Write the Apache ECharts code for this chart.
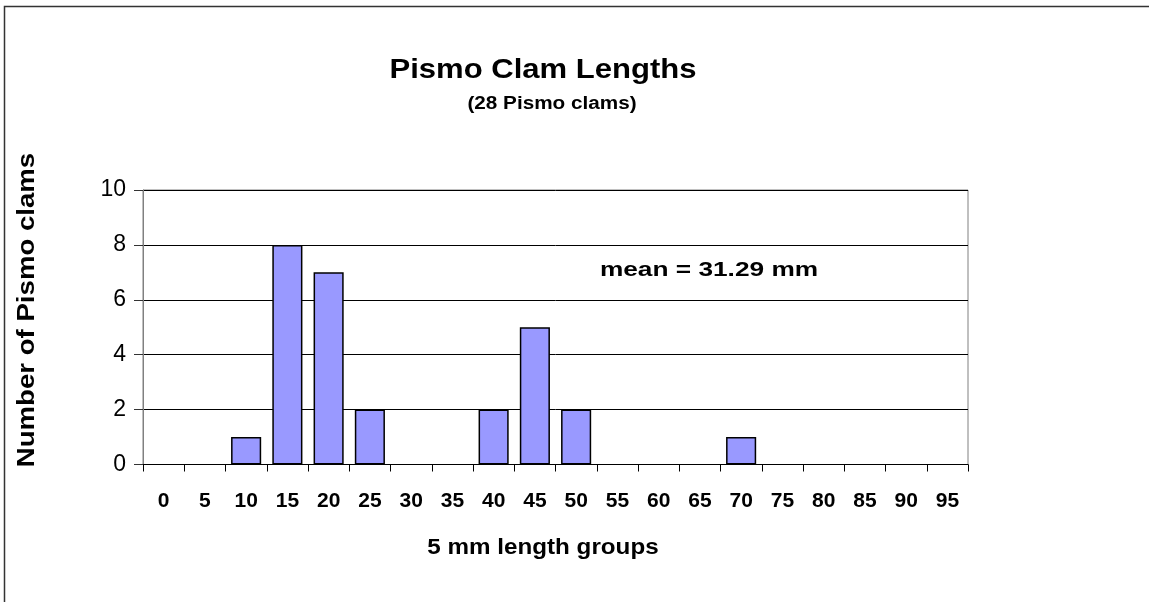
<!DOCTYPE html>
<html>
<head>
<meta charset="utf-8">
<script src="https://cdn.jsdelivr.net/npm/echarts@6/dist/echarts.min.js"></script>
<style>
  html, body { margin: 0; padding: 0; background: #fff; }
  #chart { width: 1149px; height: 602px; }
</style>
</head>
<body>
<div id="chart"></div>
<script>
// 5 mm length groups (lower bound of each group, mm)
const lengthGroups = ['0', '5', '10', '15', '20', '25', '30', '35', '40', '45',
                      '50', '55', '60', '65', '70', '75', '80', '85', '90', '95']
// number of clams in each group
const clamCounts = [0, 0, 1, 8, 7, 2, 0, 0, 2, 5, 2, 0, 0, 0, 1, 0, 0, 0, 0, 0]
const yTicks = [0, 2, 4, 6, 8, 10]

const font = 'Liberation Sans, Arial, sans-serif'

const chart = echarts.init(document.getElementById('chart'), null, { renderer: 'canvas' })

// empty groups get no outline, like the original
const barData = clamCounts.map(v => v === 0 ? { value: v, itemStyle: { borderWidth: 0 } } : v)

const option = {
    backgroundColor: '#fff',
    animation: false,
    grid: { left: 143, right: 181, top: 190, bottom: 137.5, show: true, borderColor: '#808080', borderWidth: 1 },
    graphic: [
        { type: 'rect', shape: { x: 4.5, y: 6.5, width: 1200, height: 700 },
          style: { fill: null, stroke: '#333', lineWidth: 1.5 }, silent: true, z: -1 },
        { type: 'text', x: 543, y: 71, scaleX: 1.15,
          style: { text: 'Pismo Clam Lengths', font: 'bold 27px ' + font, fill: '#000',
                   textAlign: 'center', textVerticalAlign: 'middle' } },
        { type: 'text', x: 552, y: 104, scaleX: 1.15,
          style: { text: '(28 Pismo clams)', font: 'bold 18px ' + font, fill: '#000',
                   textAlign: 'center', textVerticalAlign: 'middle' } },
        { type: 'text', x: 709, y: 270, scaleX: 1.25,
          style: { text: 'mean = 31.29 mm', font: 'bold 21px ' + font, fill: '#000',
                   textAlign: 'center', textVerticalAlign: 'middle' } },
        { type: 'text', x: 543, y: 548, scaleX: 1.1,
          style: { text: '5 mm length groups', font: 'bold 22px ' + font, fill: '#000',
                   textAlign: 'center', textVerticalAlign: 'middle' } },
        { type: 'text', x: 27, y: 310, rotation: Math.PI / 2, scaleX: 1.15,
          style: { text: 'Number of Pismo clams', font: 'bold 24px ' + font, fill: '#000',
                   textAlign: 'center', textVerticalAlign: 'middle' } }
    ],
    xAxis: {
        type: 'category',
        data: lengthGroups,
        boundaryGap: true,
        axisLine: { lineStyle: { color: '#000', width: 1 } },
        axisTick: { show: true, alignWithLabel: false, length: 7, inside: false, lineStyle: { color: '#000' } },
        axisLabel: { interval: 0, margin: 26, fontFamily: font, fontSize: 21, fontWeight: 'bold', color: '#000' },
        splitLine: { show: false }
    },
    yAxis: {
        type: 'value',
        min: yTicks[0],
        max: yTicks[yTicks.length - 1],
        interval: 2,
        axisLine: { show: true, lineStyle: { color: '#808080', width: 1 } },
        axisTick: { show: true, length: 9, lineStyle: { color: '#333' } },
        axisLabel: { margin: 17, fontFamily: font, fontSize: 23, color: '#000' },
        splitLine: { show: true, lineStyle: { color: '#000', width: 1 } }
    },
    series: [{
        type: 'bar',
        data: barData,
        barCategoryGap: '27%',
        itemStyle: { color: '#9999FF', borderColor: '#000', borderWidth: 1.5 }
    }]
}

chart.setOption(option)
</script>
</body>
</html>
